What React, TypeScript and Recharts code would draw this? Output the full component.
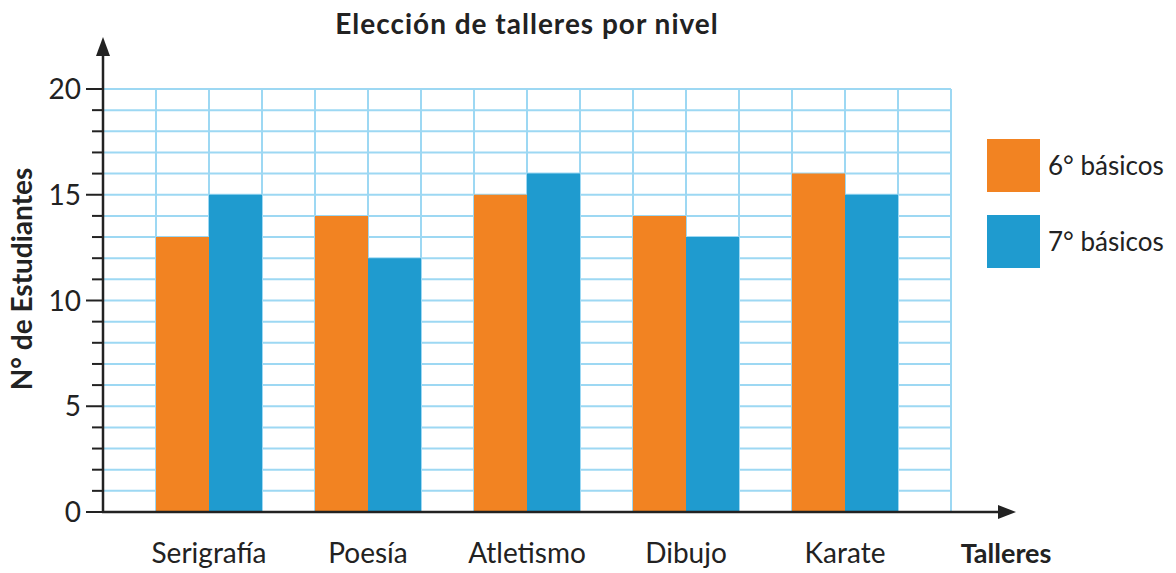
import React from 'react';
import { Bar, BarChart, CartesianGrid, XAxis, YAxis } from 'recharts';

document.body.style.margin = '0';

const talleres = ['Serigrafía', 'Poesía', 'Atletismo', 'Dibujo', 'Karate'];
const sexto = [13, 14, 15, 14, 16];
const septimo = [15, 12, 16, 13, 15];
const yTicks = [0, 1, 2, 3, 4, 5, 6, 7, 8, 9, 10, 11, 12, 13, 14, 15, 16, 17, 18, 19, 20];
const seriesNames = ['6° básicos', '7° básicos'];

const ORANGE = '#F28322';
const BLUE = '#1F9BCF';
const GRID = '#9dd8f3';
const INK = '#222222';
const FONT = 'Lato, "Noto Sans", sans-serif';

const data = talleres.map((t, i) => ({ taller: t, sexto: sexto[i], septimo: septimo[i] }));

const YTick = (props: any) => {
    const { x, y, payload } = props;
    const major = payload.value % 5 === 0;
    return (
        <g>
            <line x1={x - (major ? 17 : 11)} x2={x} y1={y} y2={y} stroke={INK} strokeWidth={2} />
            {major && (
                <text x={x - 22} y={y} dy={10} textAnchor="end" fontSize={28} fill={INK} fontFamily={FONT}>
                    {payload.value}
                </text>
            )}
        </g>
    );
};

const XTick = (props: any) => {
    const { x, y, payload } = props;
    return (
        <text x={x} y={y + 51} textAnchor="middle" fontSize={28} fill={INK} fontFamily={FONT}>
            {payload.value}
        </text>
    );
};

export default function App() {
    return (
        <div style={{ position: 'relative', width: 1176, height: 573, background: '#fff' }}>
            <BarChart
                width={1176}
                height={573}
                data={data}
                margin={{ top: 89, right: 225, bottom: 31, left: 43 }}
                barCategoryGap={26.5}
                barGap={0}
            >
                <CartesianGrid
                    stroke={GRID}
                    strokeWidth={2}
                    horizontalCoordinatesGenerator={({ offset }: any) =>
                        yTicks.map((v) => offset.top + offset.height - (offset.height * v) / 20)
                    }
                    verticalCoordinatesGenerator={({ offset }: any) =>
                        Array.from({ length: 17 }, (_, i) => offset.left + (offset.width * i) / 16)
                    }
                />
                <XAxis
                    dataKey="taller"
                    height={30}
                    padding={{ left: 26.5, right: 26.5 }}
                    axisLine={false}
                    tickLine={false}
                    tickSize={0}
                    tickMargin={0}
                    tick={<XTick />}
                    interval={0}
                />
                <YAxis
                    width={60}
                    domain={[0, 20]}
                    ticks={yTicks}
                    interval={0}
                    axisLine={false}
                    tickLine={false}
                    tickSize={0}
                    tickMargin={0}
                    tick={<YTick />}
                />
                <Bar dataKey="sexto" name={seriesNames[0]} fill={ORANGE} isAnimationActive={false} />
                <Bar dataKey="septimo" name={seriesNames[1]} fill={BLUE} isAnimationActive={false} />
            </BarChart>
            <svg
                width={1176}
                height={573}
                style={{ position: 'absolute', left: 0, top: 0, pointerEvents: 'none' }}
            >
                {/* ejes con flechas */}
                <line x1={103} y1={513} x2={103} y2={50} stroke={INK} strokeWidth={2.5} />
                <polygon points="96,56 103,37 110,56" fill={INK} />
                <line x1={102} y1={512} x2={1000} y2={512} stroke={INK} strokeWidth={2.5} />
                <polygon points="998,505 1016,512 998,519" fill={INK} />

                <text
                    x={527}
                    y={34}
                    textAnchor="middle"
                    fontSize={28}
                    fontWeight="bold"
                    letterSpacing={1}
                    fill={INK}
                    fontFamily={FONT}
                >
                    Elección de talleres por nivel
                </text>
                <text
                    x={0}
                    y={0}
                    transform="translate(32,279) rotate(-90)"
                    textAnchor="middle"
                    fontSize={28}
                    fontWeight="bold"
                    fill={INK}
                    fontFamily={FONT}
                >
                    N° de Estudiantes
                </text>
                <text x={1006} y={563} textAnchor="middle" fontSize={27} fontWeight="bold" fill={INK} fontFamily={FONT}>
                    Talleres
                </text>

                {/* leyenda */}
                <rect x={987} y={139} width={53} height={53} fill={ORANGE} />
                <text x={1048} y={175} fontSize={26} fill={INK} fontFamily={FONT}>
                    {seriesNames[0]}
                </text>
                <rect x={987} y={215} width={53} height={53} fill={BLUE} />
                <text x={1048} y={251} fontSize={26} fill={INK} fontFamily={FONT}>
                    {seriesNames[1]}
                </text>
            </svg>
        </div>
    );
}
